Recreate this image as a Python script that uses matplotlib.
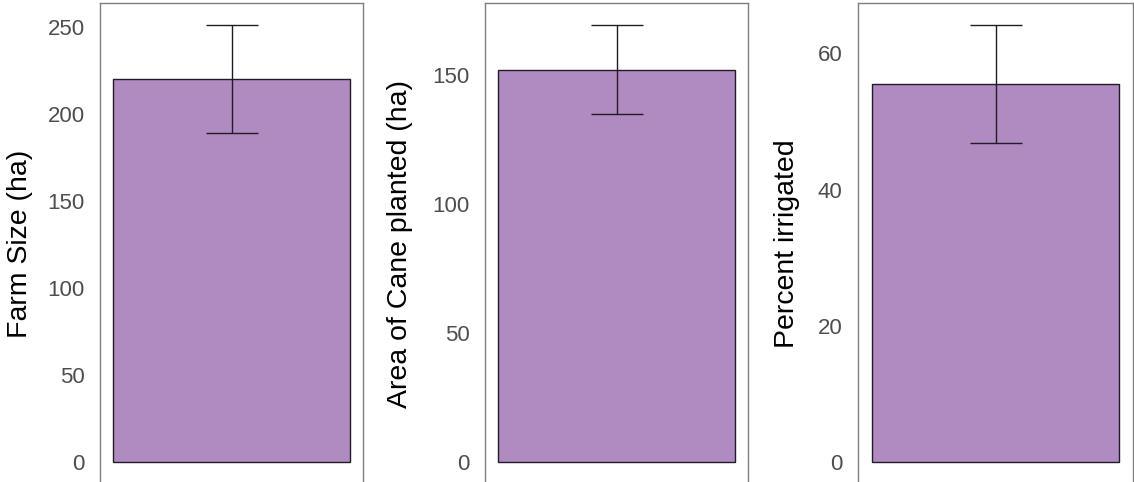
import numpy as np
import matplotlib.pyplot as plt

plt.rcParams['font.family'] = ['Liberation Sans', 'DejaVu Sans']

# mean and standard error for each farm variable
labels = ['Farm Size (ha)', 'Area of Cane planted (ha)', 'Percent irrigated']
means = [220, 152, 55.5]
errors = [31, 17.3, 8.7]
yticks = [[0, 50, 100, 150, 200, 250], [0, 50, 100, 150], [0, 20, 40, 60]]

W, H = 1134, 482
fig = plt.figure(figsize=(W / 100, H / 100), dpi=100)

# panel boxes in pixels: left, right, label x (right edge of the title)
boxes = [(100, 363, 33), (485, 748, 413), (858, 1133, 800)]
top, bottom = 3, 484

fill = '#b08bc2'
for (x0, x1, lx), lab, m, e, yt in zip(boxes, labels, means, errors, yticks):
    ax = fig.add_axes([x0 / W, 1 - bottom / H, (x1 - x0) / W, (bottom - top) / H])
    ax.bar([1], [m], width=0.9, color=fill, edgecolor='#231a28', linewidth=1.0)
    ax.errorbar([1], [m], yerr=[e], color='#231a28', capsize=19, elinewidth=1.0,
                capthick=1.0, fmt='none')
    hi = m + e
    ax.set_ylim(-0.05 * hi, 1.05 * hi)
    ax.set_xlim(0.5, 1.5)
    ax.set_xticks([])
    ax.set_yticks(yt)
    ax.tick_params(axis='y', length=0, pad=11, labelsize=16, labelcolor='#4d4d4d')
    for s in ax.spines.values():
        s.set_color('#7f7f7f')
        s.set_linewidth(1.0)
    ax.set_ylabel(lab, fontsize=20.5, color='black')
    ax.yaxis.set_label_coords((lx - x0) / (x1 - x0), 0.5)

fig.savefig('out.png', dpi=100)
